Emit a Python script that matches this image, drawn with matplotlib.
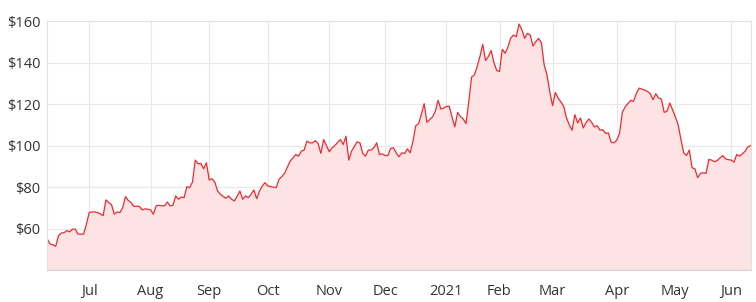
import numpy as np
import pandas as pd
import matplotlib
matplotlib.use("Agg")
import matplotlib.pyplot as plt

# trading days, Jun 10 2020 -> Jun 10 2021
holidays = ["2020-07-03", "2020-09-07", "2020-11-26", "2020-12-25", "2021-01-01",
            "2021-01-18", "2021-02-15", "2021-04-02", "2021-05-31"]
dates = pd.bdate_range("2020-06-10", "2021-06-10", freq="C", holidays=holidays)

prices = [
    54.9, 52.5, 52.2, 51.4, 56.5, 57.8, 58.0, 59.0, 58.4, 59.7,
    59.7, 57.3, 57.3, 57.3, 62.0, 67.7, 68.0, 68.0, 67.7, 67.0,
    66.2, 73.8, 72.5, 71.5, 66.9, 68.0, 67.7, 70.0, 75.4, 73.5,
    72.5, 70.6, 70.8, 70.6, 69.0, 69.5, 69.3, 69.0, 66.9, 70.9,
    71.2, 71.0, 70.9, 72.8, 70.9, 71.2, 75.7, 74.1, 75.2, 74.9,
    80.2, 79.7, 82.4, 93.0, 91.2, 91.4, 88.8, 91.7, 83.4, 84.0,
    82.4, 78.1, 76.5, 75.5, 74.6, 75.7, 74.1, 73.3, 75.5, 78.1,
    74.1, 75.7, 74.9, 76.5, 78.6, 74.4, 78.0, 80.5, 82.1, 80.5,
    80.2, 80.0, 79.7, 83.7, 85.0, 86.6, 89.6, 92.5, 94.0, 95.7,
    94.9, 97.3, 97.8, 102.1, 101.3, 101.3, 102.4, 101.0, 96.2, 102.9,
    100.0, 97.0, 98.9, 100.0, 101.5, 102.9, 100.5, 104.5, 93.0, 97.3,
    99.5, 101.8, 101.3, 96.2, 94.9, 97.8, 97.8, 99.0, 101.3, 95.7,
    96.0, 95.2, 95.2, 98.6, 98.9, 96.5, 94.6, 96.5, 96.2, 98.4,
    96.5, 102.1, 109.6, 110.5, 115.0, 120.2, 111.2, 112.5, 113.8, 116.5,
    121.8, 117.6, 118.1, 118.9, 118.9, 113.8, 109.0, 116.0, 114.0, 112.8,
    110.6, 121.3, 133.0, 134.1, 138.1, 143.0, 148.8, 141.0, 142.9, 145.8,
    140.0, 136.2, 135.7, 146.4, 144.5, 147.4, 151.7, 153.3, 152.5, 158.6,
    156.0, 151.7, 154.1, 153.3, 148.0, 150.1, 151.7, 149.6, 138.9, 134.1,
    126.1, 119.2, 125.6, 122.9, 121.0, 118.9, 113.3, 110.0, 107.4, 114.9,
    110.9, 113.3, 108.5, 111.0, 112.8, 111.2, 109.0, 109.6, 107.4, 107.7,
    105.8, 106.1, 101.6, 101.3, 102.6, 105.8, 116.0, 118.6, 120.2, 121.8,
    121.3, 125.0, 127.7, 127.2, 126.8, 126.1, 125.0, 122.1, 125.0, 122.9,
    122.4, 116.0, 116.5, 120.5, 117.3, 113.8, 110.1, 102.9, 96.5, 95.2,
    97.8, 89.3, 88.8, 84.5, 86.6, 86.9, 86.6, 93.3, 93.0, 92.2,
    92.8, 94.0, 95.2, 93.6, 93.2, 93.0, 92.0, 95.7, 94.9, 96.0,
    97.3, 99.4, 100.0,
]

y_ticks = [60, 80, 100, 120, 140, 160]

n = min(len(dates), len(prices))
dates = dates[:n]
prices = np.array(prices[:n])
x = np.arange(n)

# first trading day of each month (skip the partial first month)
month_idx = [i for i in range(1, n) if dates[i].month != dates[i - 1].month]
month_lbl = [str(dates[i].year) if dates[i].month == 1 else dates[i].strftime("%b")
             for i in month_idx]

plt.rcParams["font.family"] = ["Open Sans", "DejaVu Sans"]

fig = plt.figure(figsize=(7.56, 3.02), dpi=100)
ax = fig.add_axes([0.0626, 0.106, 0.9304, 0.824])

ax.fill_between(x, prices, 40, color="#fde3e3", linewidth=0)
ax.plot(x, prices, color="#ee2a2f", linewidth=0.9)

ax.set_xlim(0, n - 1)
ax.set_ylim(40, 160)
ax.set_yticks(y_ticks)
ax.set_yticklabels([f"${v}" for v in y_ticks])
ax.set_xticks(month_idx)
ax.set_xticklabels(month_lbl)

ax.grid(True, color="#e8e8e8", linewidth=0.8)
ax.set_axisbelow(True)
for s in ax.spines.values():
    s.set_color("#e2e2e2")
    s.set_linewidth(0.8)
ax.spines["bottom"].set_color("#d8d0d0")

ax.tick_params(length=0, labelsize=10.5, labelcolor="#333333")
ax.tick_params(axis="x", pad=10)
ax.tick_params(axis="y", pad=5)

fig.savefig("out.png", dpi=100)
